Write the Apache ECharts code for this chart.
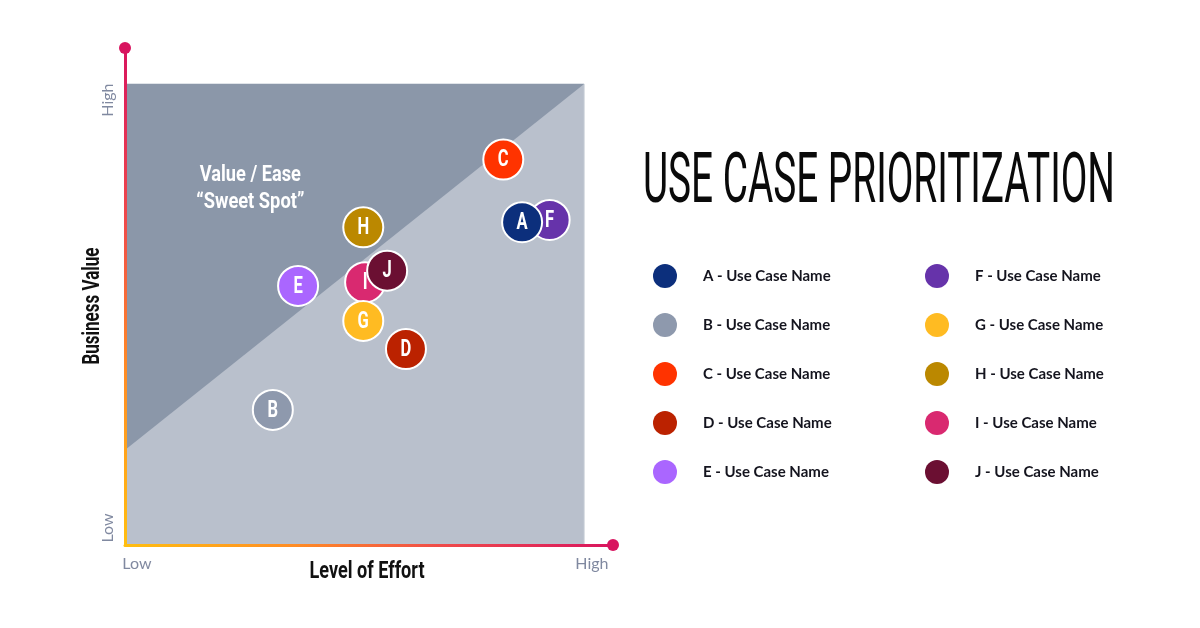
<!DOCTYPE html>
<html><head><meta charset="utf-8">
<script src="https://cdn.jsdelivr.net/npm/echarts@6/dist/echarts.min.js"></script>
<style>html,body{margin:0;padding:0;background:#fff}#c{width:1200px;height:628px}</style>
</head><body><div id="c"></div>
<script>
// ---- data ----
const useCaseIds   = ['A','B','C','D','E','F','G','H','I','J'];
const useCaseNames = ['A - Use Case Name','B - Use Case Name','C - Use Case Name','D - Use Case Name','E - Use Case Name',
                      'F - Use Case Name','G - Use Case Name','H - Use Case Name','I - Use Case Name','J - Use Case Name'];
const effort       = [8.65, 3.22, 8.24, 6.12, 3.77, 9.25, 5.19, 5.19, 5.23, 5.71]; // Level of Effort (0-10)
const value        = [7.00, 2.93, 8.36, 4.25, 5.62, 7.05, 4.86, 6.89, 5.70, 5.95]; // Business Value (0-10)
const useCaseColors= ['#0c2f7c','#8e99ad','#ff3300','#bb2200','#aa66ff','#6633aa','#ffbb22','#bb8800','#d92970','#6b0f32'];
const drawOrder    = ['B','C','D','E','F','A','H','I','G','J'];
const xTickValues  = [0.26, 10.17];
const xTickLabels  = ['Low','High'];
const yTickValues  = [0.37, 9.65];
const yTickLabels  = ['Low','High'];
const quadrantMax  = 10;
const sweetSpotLeftY = 2.06;
const xAxisMax = 10.63, yAxisMax = 10.78;

const chart = echarts.init(document.getElementById('c'));
const cv = document.createElement('canvas').getContext('2d');
function fitScale(text, font, width) {
  cv.font = font;
  const w = cv.measureText(text).width;
  return w ? width / w : 1;
}
const labelFont = 'bold 22px Roboto';
const tickFont = '16px Lato';
const axisGrad = [{ offset: 0, color: '#ffbf10' }, { offset: 0.35, color: '#ff8c24' },
                  { offset: 0.65, color: '#ef4a4a' }, { offset: 1, color: '#d8145f' }];

const titleText = 'USE CASE PRIORITIZATION';
const titleFont = '70px Roboto';
const titleScale = fitScale(titleText, titleFont, 472);

const series = [{
  type: 'custom', z: 1, silent: true,
  data: [[0, 0, quadrantMax, quadrantMax, sweetSpotLeftY]],
  renderItem: function (params, api) {
    const p0 = api.coord([api.value(0), api.value(1)]);
    const p1 = api.coord([api.value(2), api.value(3)]);
    const pl = api.coord([api.value(0), api.value(4)]);
    const t1 = api.coord([2.73, 8.02]);
    const t2 = api.coord([2.73, 7.42]);
    return {
      type: 'group', children: [
        { type: 'rect', shape: { x: p0[0], y: p1[1], width: p1[0]-p0[0], height: p0[1]-p1[1] },
          style: { fill: '#b9c0cc', stroke: '#c6cdd6', lineWidth: 1 } },
        { type: 'polygon', shape: { points: [[p0[0], p1[1]], [p1[0], p1[1]], pl] },
          style: { fill: '#8b97a9' } },
        { type: 'text', x: t1[0], y: t1[1], scaleX: fitScale('Value / Ease', labelFont, 101),
          style: { text: 'Value / Ease', fill: '#fff', font: labelFont, align: 'center', verticalAlign: 'middle' } },
        { type: 'text', x: t2[0], y: t2[1], scaleX: fitScale('\u201CSweet Spot\u201D', labelFont, 108),
          style: { text: '\u201CSweet Spot\u201D', fill: '#fff', font: labelFont, align: 'center', verticalAlign: 'middle' } }
      ]
    };
  }
}, {
  // axis end dots
  type: 'custom', z: 6, silent: true, clip: false,
  data: [[xAxisMax, 0], [0, yAxisMax]],
  renderItem: function (params, api) {
    const p = api.coord([api.value(0), api.value(1)]);
    return { type: 'circle', shape: { cx: p[0], cy: p[1], r: 6 }, style: { fill: '#d8145f' } };
  }
}, {
  // x tick labels (Low / High)
  type: 'custom', z: 6, silent: true, clip: false,
  data: xTickValues.map(function (v, i) { return [v, 0, i]; }),
  renderItem: function (params, api) {
    const p = api.coord([api.value(0), api.value(1)]);
    return { type: 'text', x: p[0], y: p[1] + 19,
      style: { text: xTickLabels[api.value(2)], font: tickFont, fill: '#8089a0', align: 'center', verticalAlign: 'middle' } };
  }
}, {
  // y tick labels (Low / High)
  type: 'custom', z: 6, silent: true, clip: false,
  data: yTickValues.map(function (v, i) { return [0, v, i]; }),
  renderItem: function (params, api) {
    const p = api.coord([api.value(0), api.value(1)]);
    return { type: 'text', x: p[0] - 17, y: p[1], rotation: Math.PI / 2,
      style: { text: yTickLabels[api.value(2)], font: tickFont, fill: '#8089a0', align: 'center', verticalAlign: 'middle' } };
  }
}];

drawOrder.forEach(function (id) {
  const i = useCaseIds.indexOf(id);
  series.push({
    type: 'custom', name: useCaseNames[i], z: 3,
    data: [[effort[i], value[i]]],
    itemStyle: { color: useCaseColors[i] },
    renderItem: function (params, api) {
      const p = api.coord([api.value(0), api.value(1)]);
      return { type: 'group', children: [
        { type: 'circle', shape: { cx: p[0], cy: p[1], r: 20 },
          style: { fill: useCaseColors[i], stroke: '#fff', lineWidth: 2 } },
        { type: 'text', x: p[0], y: p[1] + 1, scaleX: 0.72,
          style: { text: id, fill: '#fff', font: 'bold 23px Roboto', align: 'center', verticalAlign: 'middle' } }
      ] };
    }
  });
});

const legendCommon = {
  orient: 'vertical', top: 264, padding: 0, itemWidth: 24, itemHeight: 24, itemGap: 25, icon: 'circle',
  textStyle: { fontFamily: 'Lato', fontWeight: 'bold', fontSize: 15, color: '#14141e', padding: [0, 0, 0, 21] },
  selectedMode: false
};

chart.setOption({
  animation: false,
  grid: { left: 125, right: 587, top: 48, bottom: 83 },
  xAxis: {
    type: 'value', min: 0, max: xAxisMax, z: 5,
    axisLine: { show: true,
      lineStyle: { width: 3, color: { type: 'linear', x: 0, y: 0, x2: 1, y2: 0, colorStops: axisGrad } } },
    axisTick: { show: false }, splitLine: { show: false }, axisLabel: { show: false }
  },
  yAxis: {
    type: 'value', min: 0, max: yAxisMax, z: 5,
    axisLine: { show: true,
      lineStyle: { width: 3, color: { type: 'linear', x: 0, y: 1, x2: 0, y2: 0, colorStops: axisGrad } } },
    axisTick: { show: false }, splitLine: { show: false }, axisLabel: { show: false }
  },
  legend: [
    Object.assign({ left: 653, data: useCaseNames.slice(0, 5) }, legendCommon),
    Object.assign({ left: 925, data: useCaseNames.slice(5) }, legendCommon)
  ],
  graphic: [{
    type: 'text', x: 643, y: 184, scaleX: titleScale,
    style: { text: titleText, font: titleFont, fill: '#0a0a0a', align: 'left', verticalAlign: 'middle' }
  }, {
    type: 'text', x: 367, y: 572, scaleX: fitScale('Level of Effort', 'bold 24px Roboto', 115),
    style: { text: 'Level of Effort', font: 'bold 24px Roboto', fill: '#111', align: 'center', verticalAlign: 'middle' }
  }, {
    type: 'text', x: 93, y: 306, rotation: Math.PI / 2, scaleX: fitScale('Business Value', 'bold 24px Roboto', 117),
    style: { text: 'Business Value', font: 'bold 24px Roboto', fill: '#111', align: 'center', verticalAlign: 'middle' }
  }],
  series: series
});
</script></body></html>
